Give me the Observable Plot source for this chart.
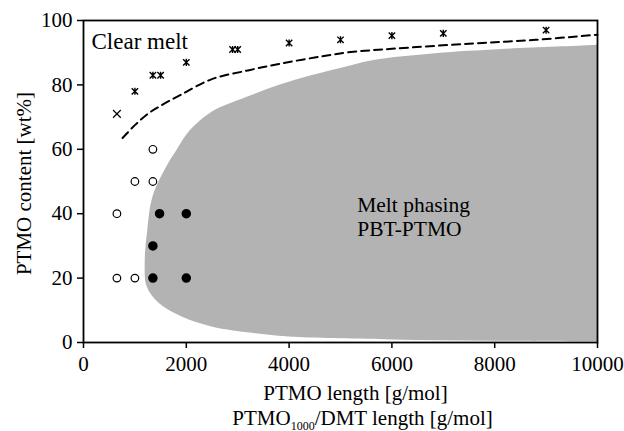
<!DOCTYPE html>
<html><head><meta charset="utf-8">
<script src="https://cdn.jsdelivr.net/npm/d3@7"></script>
<script src="https://cdn.jsdelivr.net/npm/@observablehq/plot@0.6"></script>
<style>body{margin:0;background:#fff}</style>
</head><body><div id="chart"></div>
<script>
// Tick values
const xTicks = [0, 2000, 4000, 6000, 8000, 10000];
const yTicks = [0, 20, 40, 60, 80, 100];

// Clear melt: crosses and asterisks
const crossX = [650];
const crossY = [71];
const asteriskX = [1000, 1350, 1500, 2000, 2900, 3000, 4000, 5000, 6000, 7000, 9000];
const asteriskY = [78, 83, 83, 87, 91, 91, 93, 94, 95.3, 96, 97];

// Open / filled circles
const openX = [1350, 1000, 1350, 650, 650, 1000];
const openY = [60, 50, 50, 40, 20, 20];
const filledX = [1480, 2000, 1350, 1350, 2000];
const filledY = [40, 40, 30, 20, 20];

// Dashed boundary
const dashX = [760, 1000, 1250, 1500, 1900, 2500, 3200, 3800, 4500, 5200, 6000, 7500, 8800, 10000];
const dashY = [63.5, 67.5, 71, 73.5, 77, 81.8, 84.5, 86.5, 88.5, 90.2, 91.2, 92.8, 94, 95.6];

// Melt phasing region: left boundary x at each y, right boundary at 10000
const grayY = [0.2, 0.4, 0.8, 1.6, 2.7, 4.8, 7.9, 12, 17.2, 24.4, 34.8, 45.1, 54.5, 59.7, 65.8, 71.5, 76, 79.8, 82.9, 85.5, 87.6, 89.7, 91, 92.2, 92.4];
const grayX = [10000, 8000, 6000, 4100, 3350, 2500, 1920, 1480, 1240, 1200, 1250, 1350, 1620, 1820, 2080, 2500, 3160, 3800, 4450, 5100, 5650, 6850, 8140, 9890, 10000];
const grayRight = 10000;

const labels = {
  y: "PTMO content [wt%]",
  x1: "PTMO length [g/mol]",
  x2: "PTMO1000/DMT length [g/mol]",
  clear: "Clear melt",
  phase: "Melt phasing\nPBT-PTMO"
};

const toRows = (xs, ys) => xs.map((x, i) => ({x, y: ys[i]}));
const grayRows = grayY.map((y, i) => ({y, x1: grayX[i], x2: grayRight}));

const asteriskSym = {
  draw(context, size) {
    const r = Math.sqrt(size / Math.PI);
    context.moveTo(-r, -r); context.lineTo(r, r);
    context.moveTo(-r, r); context.lineTo(r, -r);
    context.moveTo(0, -r * 1.1); context.lineTo(0, r * 1.1);
  }
};

const serif = "Liberation Serif";

const plot = Plot.plot({
  width: 624,
  height: 431,
  marginLeft: 83,
  marginRight: 27,
  marginTop: 20,
  marginBottom: 89,
  style: {fontFamily: serif, fontSize: "21px", color: "#000", background: "#fff", overflow: "visible"},
  x: {domain: [0, 10000]},
  y: {domain: [0, 100]},
  marks: [
    Plot.areaX(grayRows, {y: "y", x1: "x1", x2: "x2", fill: "#b3b3b3", curve: "catmull-rom", clip: true}),
    Plot.line(toRows(dashX, dashY), {x: "x", y: "y", stroke: "#000", strokeWidth: 2, strokeDasharray: "8,5", curve: "catmull-rom"}),
    Plot.dot(toRows(crossX, crossY), {x: "x", y: "y", symbol: "times", r: 3.6, stroke: "#000", strokeWidth: 1.2}),
    Plot.dot(toRows(asteriskX, asteriskY), {x: "x", y: "y", symbol: asteriskSym, r: 3.2, stroke: "#000", strokeWidth: 1.4}),
    Plot.dot(toRows(openX, openY), {x: "x", y: "y", r: 3.8, fill: "#fff", stroke: "#000", strokeWidth: 1.2}),
    Plot.dot(toRows(filledX, filledY), {x: "x", y: "y", r: 4, fill: "#000", stroke: "#000"}),
    Plot.text([labels.clear], {x: 156, y: 91, text: d => d, textAnchor: "start", lineAnchor: "bottom", fontSize: 23, fontFamily: serif}),
    Plot.text([labels.phase], {x: 5325, y: 33.1, text: d => d, textAnchor: "start", lineAnchor: "bottom", lineHeight: 1.1, fontSize: 21.5, fontFamily: serif}),
    Plot.axisX({ticks: xTicks, tickSize: 6, tickPadding: 8, label: null, strokeWidth: 1.5, fontFamily: serif, fontSize: 21, tickFormat: d => String(d)}),
    Plot.axisY({ticks: yTicks, tickSize: 6, tickPadding: 5, label: null, strokeWidth: 1.5, fontFamily: serif, fontSize: 21}),
    Plot.frame({stroke: "#000", strokeWidth: 1.8}),
    Plot.text([labels.x1], {frameAnchor: "bottom", text: d => d, textAnchor: "middle", lineAnchor: "bottom", dx: 15, dy: 57, fontSize: 21, fontFamily: serif}),
    Plot.text([labels.x2], {frameAnchor: "bottom", text: d => d, textAnchor: "middle", lineAnchor: "bottom", dx: 22, dy: 82, fontSize: 21, fontFamily: serif}),
    Plot.text([labels.y], {frameAnchor: "left", text: d => d, textAnchor: "middle", rotate: -90, lineAnchor: "bottom", dx: -53, dy: 2, fontSize: 21, fontFamily: serif})
  ]
});

document.getElementById("chart").appendChild(plot);

// Subscript for PTMO1000
d3.select(plot).selectAll("text").each(function() {
  if (this.textContent === labels.x2) {
    const t = d3.select(this);
    t.text(null);
    t.append("tspan").text("PTMO");
    t.append("tspan").attr("font-size", "12px").attr("dy", "5").text("1000");
    t.append("tspan").attr("dy", "-5").text("/DMT length [g/mol]");
  }
});
</script>
</body></html>
